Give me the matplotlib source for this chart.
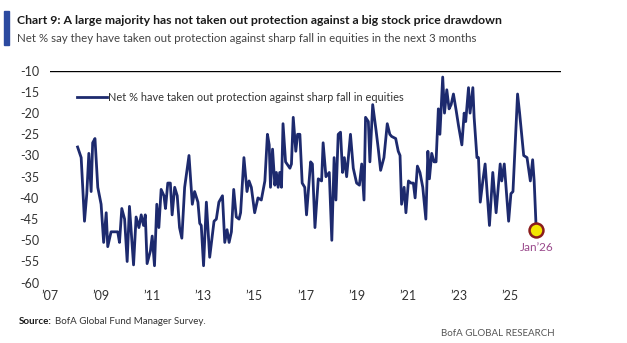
import matplotlib
matplotlib.use("Agg")
import matplotlib.pyplot as plt
from matplotlib.patches import Rectangle

# Net % of fund managers who have taken out protection against a sharp equity fall
years = [
    2008.08, 2008.22, 2008.35, 2008.44, 2008.52, 2008.61, 2008.67, 2008.76, 2008.87, 2009.00,
    2009.10, 2009.20, 2009.26, 2009.39, 2009.65, 2009.72, 2009.81, 2009.92, 2010.02, 2010.11,
    2010.27, 2010.37, 2010.48, 2010.57, 2010.66, 2010.73, 2010.80, 2010.93, 2011.00, 2011.09,
    2011.18, 2011.26, 2011.35, 2011.46, 2011.52, 2011.61, 2011.71, 2011.78, 2011.88, 2011.98,
    2012.07, 2012.16, 2012.27, 2012.44, 2012.57, 2012.66, 2012.79, 2012.86, 2012.92, 2013.01,
    2013.12, 2013.25, 2013.42, 2013.51, 2013.61, 2013.75, 2013.84, 2013.93, 2014.01, 2014.10,
    2014.19, 2014.29, 2014.40, 2014.46, 2014.59, 2014.71, 2014.79, 2014.88, 2015.01, 2015.14,
    2015.27, 2015.41, 2015.51, 2015.58, 2015.63, 2015.71, 2015.80, 2015.86, 2015.93, 2015.99,
    2016.06, 2016.12, 2016.22, 2016.39, 2016.45, 2016.52, 2016.62, 2016.69, 2016.78, 2016.87,
    2016.97, 2017.04, 2017.20, 2017.27, 2017.37, 2017.50, 2017.63, 2017.69, 2017.80, 2017.93,
    2018.03, 2018.12, 2018.19, 2018.28, 2018.37, 2018.45, 2018.52, 2018.61, 2018.76, 2018.87,
    2019.00, 2019.11, 2019.20, 2019.29, 2019.35, 2019.46, 2019.52, 2019.63, 2019.76, 2019.85,
    2019.94, 2020.07, 2020.20, 2020.30, 2020.37, 2020.53, 2020.63, 2020.70, 2020.76, 2020.86,
    2020.93, 2021.03, 2021.13, 2021.22, 2021.29, 2021.38, 2021.48, 2021.59, 2021.71, 2021.79,
    2021.85, 2021.94, 2022.03, 2022.11, 2022.20, 2022.26, 2022.37, 2022.44, 2022.53, 2022.62,
    2022.70, 2022.79, 2022.90, 2022.99, 2023.12, 2023.21, 2023.27, 2023.38, 2023.44, 2023.55,
    2023.60, 2023.71, 2023.77, 2023.84, 2023.94, 2024.03, 2024.20, 2024.33, 2024.46, 2024.62,
    2024.68, 2024.78, 2024.95, 2025.04, 2025.12, 2025.30, 2025.38, 2025.54, 2025.67, 2025.80,
    2025.89, 2025.95, 2026.03,
]
net_pct = [
    -28, -30.5, -45.5, -39, -29.5, -38.5, -27, -26, -37.5, -41.5,
    -50.5, -43.5, -51.5, -48, -48, -50.5, -42.5, -45, -55, -42,
    -55.8, -44.5, -47, -44, -46.5, -44, -55.5, -52.5, -49, -56,
    -41.5, -47, -38, -39.5, -42.5, -36.5, -36.5, -44, -37.5, -39.5,
    -47, -49.5, -37.5, -30, -41.5, -38.5, -41, -46, -46.5, -56,
    -41, -54, -45.5, -45, -41, -39.5, -50.5, -47.5, -50.5, -48,
    -38, -44.5, -45, -43.5, -30.5, -38.5, -36, -37.5, -43.5, -40,
    -40.5, -36, -25, -27.5, -37.5, -28.5, -37, -34, -37.5, -34,
    -37.5, -22.5, -31.5, -33, -32, -21, -29, -25, -25, -36.5,
    -37.5, -44, -31.5, -32, -47, -35.5, -36, -27, -35, -34,
    -50, -30.5, -40.5, -25, -24.5, -34, -30.5, -35, -25, -33,
    -36.5, -37, -32, -40.5, -21, -22, -31.5, -18, -24, -28.5,
    -33.5, -30.5, -22.5, -25, -25.5, -26, -29, -30, -41.5, -37.5,
    -43.5, -36, -36.5, -36.5, -40, -32.5, -34, -37.5, -45, -29,
    -35.5, -29.5, -31.5, -31.5, -19, -25, -11.5, -20, -14.5, -19,
    -18, -15.5, -19.5, -23, -27.5, -20, -22, -14, -20, -14,
    -21, -30.5, -30.5, -41, -36, -32, -46.5, -34, -43.5, -32,
    -36, -32, -45.5, -39, -38.5, -15.5, -20, -30, -30.5, -36,
    -31, -36, -47.5,
]
tick_years = [2007, 2009, 2011, 2013, 2015, 2017, 2019, 2021, 2023, 2025]
tick_labels = ["\u201907", "\u201909", "\u201911", "\u201913", "\u201915",
               "\u201917", "\u201919", "\u201921", "\u201923", "\u201925"]
y_ticks = list(range(-10, -61, -5))
series_name = "Net % have taken out protection against sharp fall in equities"
last_label = "Jan\u201926"

navy = "#1d2a6e"
plt.rcParams["font.family"] = ["Lato", "DejaVu Sans"]
plt.rcParams["axes.unicode_minus"] = False

fig = plt.figure(figsize=(6.27, 3.43), dpi=100)
ax = fig.add_axes([50 / 627, 1 - 282.7 / 343, 511 / 627, 212 / 343])

ax.plot(years, net_pct, color=navy, lw=2.0, solid_joinstyle="round", label=series_name)
ax.plot(years[-1], net_pct[-1], "o", ms=10, mfc="#f3e600", mec="#8a1c1c", mew=1.8, zorder=5)
ax.annotate(last_label, (years[-1], net_pct[-1]), xytext=(0, -9), textcoords="offset points",
            ha="center", va="top", color="#9a4a8c", fontsize=8.5)

ax.axhline(-10, color="black", lw=1)
ax.set_xlim(2007, 2027)
ax.set_ylim(-60, -10)
ax.set_xticks(tick_years)
ax.set_xticklabels(tick_labels)
ax.set_yticks(y_ticks)
ax.tick_params(length=0, labelsize=9, labelcolor="#333333")
ax.tick_params(axis="y", pad=8)
ax.tick_params(axis="x", pad=5)
for s in ax.spines.values():
    s.set_visible(False)

ax.legend(loc="center left", bbox_to_anchor=(0.053, 0.873), frameon=False, borderpad=0,
          borderaxespad=0, handlelength=2.7, handletextpad=0.1, fontsize=7.9,
          labelcolor="#333333")

# header
fig.patches.append(Rectangle((4 / 627, 1 - 45 / 343), 5 / 627, 34 / 343,
                             transform=fig.transFigure, color="#2b4aa0"))
fig.text(17 / 627, 1 - 20 / 343, "Chart 9: A large majority has not taken out protection against a big stock price drawdown",
         fontsize=8.8, fontweight="bold", color="#1a1a1a", va="center")
fig.text(17 / 627, 1 - 39 / 343, "Net % say they have taken out protection against sharp fall in equities in the next 3 months",
         fontsize=8.3, color="#444444", va="center")

# footer
src = fig.text(19 / 627, 1 - 321 / 343, "Source:", fontsize=7, fontweight="bold", color="#1a1a1a", va="center")
ax.annotate("BofA Global Fund Manager Survey.", xy=(1, 0), xycoords=src, xytext=(2, 0),
            textcoords="offset points", va="bottom", fontsize=7, color="#333333",
            annotation_clip=False)
fig.text(555 / 627, 1 - 334 / 343, "BofA GLOBAL RESEARCH", fontsize=7, color="#555555",
         ha="right", va="center")

fig.savefig("out.png", dpi=100)
